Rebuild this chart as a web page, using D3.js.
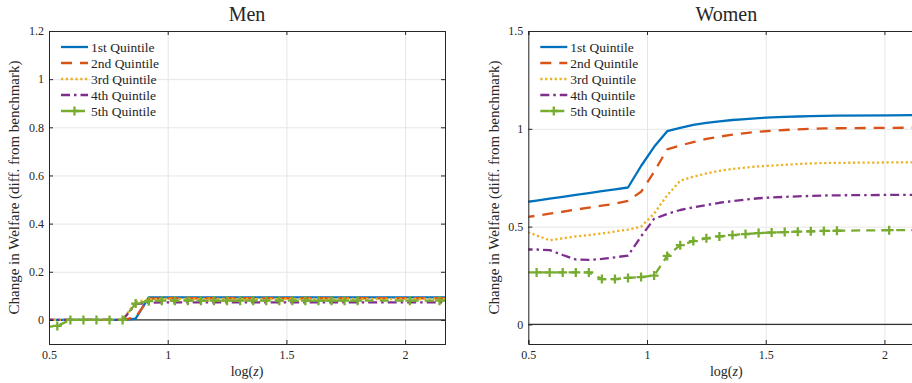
<!DOCTYPE html>
<html><head><meta charset="utf-8">
<script src="https://cdn.jsdelivr.net/npm/d3@7"></script>
<style>body{margin:0;background:#fff}svg text{font-family:"Liberation Serif","Times New Roman",serif;fill:#262626}</style>
</head><body><svg id="c" width="912" height="383"></svg>
<script>
// ---- data ----
const xGrid = [0.48,0.535,0.59,0.645,0.70,0.755,0.81,0.865,0.92,0.975,1.03,1.085,1.14,1.195,1.25,1.305,1.36,1.415,1.47,1.525,1.58,1.635,1.69,1.745,1.80,2.02,2.145,2.26];
const quintileLabels = ["1st Quintile","2nd Quintile","3rd Quintile","4th Quintile","5th Quintile"];
const menQ1 = [0,0,0,0,0,0,0,0.005,0.094,0.094,0.094,0.094,0.094,0.094,0.094,0.094,0.094,0.094,0.094,0.094,0.094,0.094,0.094,0.094,0.094,0.094,0.094,0.094];
const menQ2 = [0,0,0,0,0,0,0,0.012,0.088,0.09,0.09,0.09,0.09,0.09,0.09,0.09,0.09,0.09,0.09,0.09,0.09,0.09,0.09,0.09,0.09,0.09,0.09,0.09];
const menQ3 = [0,0,0,0,0,0,0,0.075,0.085,0.087,0.087,0.087,0.087,0.087,0.087,0.087,0.087,0.087,0.087,0.087,0.087,0.087,0.087,0.087,0.087,0.087,0.087,0.087];
const menQ4 = [0,0,0,0,0,0,0,0.066,0.071,0.073,0.073,0.073,0.073,0.073,0.073,0.073,0.073,0.073,0.073,0.073,0.073,0.073,0.073,0.073,0.073,0.073,0.073,0.073];
const menQ5 = [-0.03,-0.025,0,0,0,0,0,0.068,0.078,0.08,0.08,0.08,0.08,0.08,0.08,0.08,0.08,0.08,0.08,0.08,0.08,0.08,0.08,0.08,0.08,0.08,0.08,0.08];
const womenQ1 = [0.624,0.633,0.643,0.652,0.662,0.671,0.681,0.690,0.700,0.810,0.908,0.988,1.005,1.020,1.030,1.038,1.045,1.050,1.055,1.058,1.061,1.063,1.065,1.066,1.067,1.069,1.070,1.070];
const womenQ2 = [0.546,0.556,0.566,0.576,0.587,0.597,0.607,0.617,0.632,0.678,0.780,0.895,0.915,0.932,0.948,0.960,0.970,0.978,0.985,0.990,0.994,0.997,1.000,1.002,1.003,1.005,1.006,1.006];
const womenQ3 = [0.480,0.455,0.430,0.440,0.450,0.457,0.465,0.475,0.485,0.500,0.567,0.660,0.735,0.755,0.772,0.785,0.795,0.802,0.808,0.812,0.816,0.820,0.823,0.825,0.826,0.828,0.829,0.829];
const womenQ4 = [0.383,0.383,0.380,0.355,0.332,0.330,0.335,0.343,0.352,0.450,0.540,0.565,0.585,0.598,0.610,0.622,0.630,0.638,0.645,0.649,0.652,0.655,0.657,0.659,0.660,0.662,0.663,0.663];
const womenQ5 = [0.266,0.266,0.266,0.266,0.266,0.266,0.232,0.232,0.238,0.242,0.250,0.350,0.405,0.426,0.440,0.450,0.457,0.462,0.467,0.470,0.472,0.474,0.476,0.478,0.479,0.482,0.482,0.482];
const xTicks = [0.5,1,1.5,2];
const xDomain = [0.5,2.168];
const menYTicks = [0,0.2,0.4,0.6,0.8,1,1.2];
const womenYTicks = [0,0.5,1,1.5];

// ---- styles ----
const styles = [
  {color:"#0072BD", dash:null},
  {color:"#D95319", dash:"11,8"},
  {color:"#EDB120", dash:"2.2,2.6"},
  {color:"#7E2F8E", dash:"9,4,2.5,4"},
  {color:"#77AC30", dash:"9,6", marker:true}
];
const svg = d3.select("#c");
const axisColor = "#262626";

function plus(sel, cx, cy, color){
  sel.append("path").attr("d",`M${cx-4.5},${cy}H${cx+4.5}M${cx},${cy-4.5}V${cy+4.5}`)
    .attr("stroke",color).attr("stroke-width",2.3).attr("fill","none");
}

function panel(cfg){
  const {id,left,top,width,height,yDomain,yTicks,title,series,ylabelX} = cfg;
  const x = d3.scaleLinear().domain(xDomain).range([left,left+width]);
  const y = d3.scaleLinear().domain(yDomain).range([top+height,top]);
  const g = svg.append("g");
  g.append("clipPath").attr("id",id).append("rect").attr("x",left).attr("y",top).attr("width",width).attr("height",height);

  // grid
  g.append("g").attr("transform",`translate(0,${top+height})`)
    .call(d3.axisBottom(x).tickValues(xTicks).tickSize(-height).tickFormat(""))
    .call(s=>{s.select(".domain").remove();s.selectAll("line").attr("stroke","#e6e6e6");});
  g.append("g").attr("transform",`translate(${left},0)`)
    .call(d3.axisLeft(y).tickValues(yTicks).tickSize(-width).tickFormat(""))
    .call(s=>{s.select(".domain").remove();s.selectAll("line").attr("stroke","#e6e6e6");});

  // zero line
  g.append("line").attr("x1",left).attr("x2",left+width).attr("y1",y(0)).attr("y2",y(0))
    .attr("stroke","#333333").attr("stroke-width",1.2);

  // series
  const line = d3.line().x((d,i)=>x(xGrid[i])).y(d=>y(d));
  const plotG = g.append("g").attr("clip-path",`url(#${id})`);
  series.forEach((vals,k)=>{
    const st = styles[k];
    plotG.append("path").datum(vals).attr("d",line).attr("fill","none")
      .attr("stroke",st.color).attr("stroke-width",2.3)
      .attr("stroke-dasharray",st.dash).attr("stroke-linejoin","round");
  });
  series.forEach((vals,k)=>{
    const st = styles[k];
    if(!st.marker) return;
    vals.forEach((v,i)=>{
      if(xGrid[i] < xDomain[0] || xGrid[i] > xDomain[1]) return;
      plus(g, x(xGrid[i]), y(v), st.color);
    });
  });

  // axes
  const bx = g.append("g").attr("transform",`translate(0,${top+height})`)
    .call(d3.axisBottom(x).tickValues(xTicks).tickSize(-4).tickPadding(6).tickFormat(d=>String(d)));
  const tx = g.append("g").attr("transform",`translate(0,${top})`)
    .call(d3.axisTop(x).tickValues(xTicks).tickSize(-4).tickFormat(""));
  const ly = g.append("g").attr("transform",`translate(${left},0)`)
    .call(d3.axisLeft(y).tickValues(yTicks).tickSize(-4).tickPadding(5).tickFormat(d=>String(d)));
  const ry = g.append("g").attr("transform",`translate(${left+width},0)`)
    .call(d3.axisRight(y).tickValues(yTicks).tickSize(-4).tickFormat(""));
  [bx,tx,ly,ry].forEach(a=>{
    a.select(".domain").attr("stroke",axisColor);
    a.selectAll(".tick line").attr("stroke",axisColor);
    a.selectAll("text").attr("font-size",12).attr("fill",axisColor)
      .attr("font-family",'"Liberation Serif",serif');
  });

  // title & labels
  g.append("text").attr("x",left+width/2).attr("y",21).attr("text-anchor","middle")
    .attr("font-size",20).text(title);
  const xl = g.append("text").attr("x",left+width/2).attr("y",376).attr("text-anchor","middle").attr("font-size",14);
  xl.append("tspan").text("log(");
  xl.append("tspan").attr("font-style","italic").text("z");
  xl.append("tspan").text(")");
  g.append("text").attr("transform",`translate(${ylabelX},${top+height/2}) rotate(-90)`)
    .attr("text-anchor","middle").attr("font-size",15).text("Change in Welfare (diff. from benchmark)");

  // legend
  quintileLabels.forEach((lab,k)=>{
    const st = styles[k];
    const yy = 47 + k*16;
    g.append("line").attr("x1",left+12).attr("x2",left+39).attr("y1",yy).attr("y2",yy)
      .attr("stroke",st.color).attr("stroke-width",2.3).attr("stroke-dasharray",st.dash);
    if(st.marker) plus(g,left+25.5,yy,st.color);
    g.append("text").attr("x",left+42).attr("y",yy+4.5).attr("font-size",13.5).text(lab);
  });
}

panel({id:"clipMen",left:49,top:31,width:396,height:313,yDomain:[-0.1,1.2],yTicks:menYTicks,
  title:"Men",series:[menQ1,menQ2,menQ3,menQ4,menQ5],ylabelX:19});
panel({id:"clipWomen",left:528.3,top:31,width:396,height:313,yDomain:[-0.1,1.5],yTicks:womenYTicks,
  title:"Women",series:[womenQ1,womenQ2,womenQ3,womenQ4,womenQ5],ylabelX:499});
</script></body></html>
